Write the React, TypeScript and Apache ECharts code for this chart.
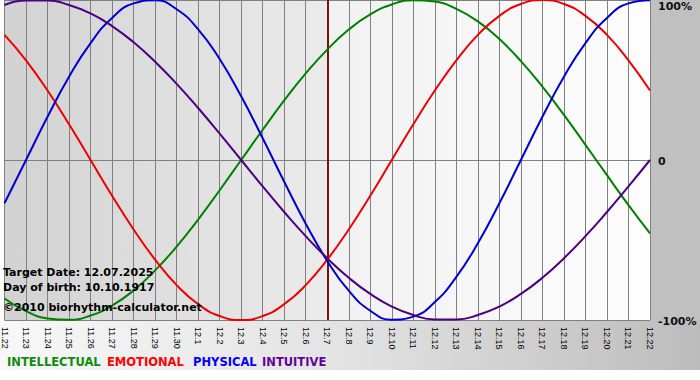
import React, { useEffect, useRef } from "react";
import * as echarts from "echarts";

const dates = [
  "11.22", "11.23", "11.24", "11.25", "11.26", "11.27", "11.28", "11.29", "11.30",
  "12.1", "12.2", "12.3", "12.4", "12.5", "12.6", "12.7", "12.8", "12.9", "12.10",
  "12.11", "12.12", "12.13", "12.14", "12.15", "12.16", "12.17", "12.18", "12.19",
  "12.20", "12.21", "12.22",
];

const targetDate = "12.7";

const intellectual = [
  -0.866, -0.945, -0.99, -0.999, -0.972, -0.91, -0.815, -0.69, -0.541, -0.372,
  -0.189, 0, 0.189, 0.372, 0.541, 0.69, 0.815, 0.91, 0.972, 0.999, 0.99, 0.945,
  0.866, 0.756, 0.618, 0.458, 0.282, 0.095, -0.095, -0.282, -0.458,
];

const emotional = [
  0.782, 0.623, 0.434, 0.223, 0, -0.223, -0.434, -0.623, -0.782, -0.901, -0.975,
  -1.0, -0.975, -0.901, -0.782, -0.623, -0.434, -0.223, 0, 0.223, 0.434, 0.623,
  0.782, 0.901, 0.975, 1.0, 0.975, 0.901, 0.782, 0.623, 0.434,
];

const physical = [
  -0.27, 0, 0.27, 0.52, 0.731, 0.888, 0.979, 0.998, 0.942, 0.817, 0.631, 0.398,
  0.136, -0.136, -0.398, -0.631, -0.817, -0.942, -0.998, -0.979, -0.888, -0.731,
  -0.52, -0.27, 0, 0.27, 0.52, 0.731, 0.888, 0.979, 0.998,
];

const intuitive = [
  0.969, 0.997, 0.997, 0.969, 0.916, 0.837, 0.736, 0.614, 0.476, 0.325, 0.165, 0,
  -0.165, -0.325, -0.476, -0.614, -0.736, -0.837, -0.916, -0.969, -0.997, -0.997,
  -0.969, -0.916, -0.837, -0.736, -0.614, -0.476, -0.325, -0.165, 0,
];

const seriesNames = ["INTELLECTUAL", "EMOTIONAL", "PHYSICAL", "INTUITIVE"];
const seriesData = [intellectual, emotional, physical, intuitive];
const lineColors = ["#008000", "#ee0000", "#0000d0", "#4b0082"];
const legendColors = ["#108a10", "#ff0000", "#0000ff", "#660099"];

const yTickValues = [-1, 0, 1];
const yTickLabels = ["-100%", "0", "100%"];

const infoLines = [
  "Target Date: 12.07.2025",
  "Day of birth: 10.10.1917",
  "©2010 biorhythm-calculator.net",
];

const FONT = "DejaVu Sans";

export default function App() {
  const ref = useRef<HTMLDivElement>(null);

  useEffect(() => {
    if (!ref.current) return;
    const chart = echarts.init(ref.current, null, { renderer: "svg" });

    const labelFont = {
      fontFamily: FONT,
      fontWeight: "bold" as const,
      fontSize: 11,
      color: "#111",
    };

    const legendX = [7, 107, 193, 262];
    const infoY = [272, 287.5, 307];

    chart.setOption({
      animation: false,
      backgroundColor: "#ffffff",
      grid: {
        left: 1,
        top: 0,
        width: 649,
        height: 320,
        show: true,
        borderWidth: 0,
        backgroundColor: new echarts.graphic.LinearGradient(0, 0, 1, 0, [
          { offset: 0, color: "#d2d2d2" },
          { offset: 0.5, color: "#ebebeb" },
          { offset: 0.5, color: "#f1f1f1" },
          { offset: 1, color: "#fdfdfd" },
        ]),
      },
      xAxis: {
        type: "category",
        data: dates,
        boundaryGap: false,
        axisLine: { show: true, lineStyle: { color: "#808080", width: 1 } },
        axisTick: { show: true, interval: 0, length: 4, lineStyle: { color: "#808080" } },
        splitLine: { show: true, interval: 0, lineStyle: { color: "#808080", width: 1 } },
        axisLabel: {
          interval: 0,
          rotate: -90,
          margin: 7,
          fontFamily: "Liberation Sans",
          fontSize: 9,
          color: "#000",
        },
      },
      yAxis: {
        type: "value",
        position: "right",
        min: -1,
        max: 1,
        interval: 1,
        axisLine: { show: false },
        axisTick: { show: false },
        splitLine: { show: true, lineStyle: { color: "#808080", width: 1 } },
        axisLabel: {
          margin: 8,
          ...labelFont,
          formatter: (v: number) => {
            const idx = yTickValues.indexOf(v);
            const txt = idx >= 0 ? yTickLabels[idx] : "";
            if (v === 1) return "{t|" + txt + "}";
            return "{m|" + txt + "}";
          },
          rich: {
            t: { ...labelFont, padding: [12, 0, 0, 0] },
            m: { ...labelFont, padding: [3, 0, 0, 0] },
          },
        },
      },
      series: seriesNames.map((name, i) => ({
        name,
        type: "line",
        data: seriesData[i],
        smooth: true,
        showSymbol: false,
        symbol: "none",
        lineStyle: { color: lineColors[i], width: 2 },
        z: 3 + i,
        ...(i === 0
          ? {
              markLine: {
                silent: true,
                symbol: "none",
                label: { show: false },
                lineStyle: { color: "#7a1010", width: 2, type: "solid" },
                data: [{ xAxis: targetDate }],
                z: 2,
              },
            }
          : {}),
      })),
      graphic: [
        {
          type: "rect",
          z: -10,
          shape: { x: 650, y: 0, width: 50, height: 321 },
          style: { fill: "#c0c0c0" },
          silent: true,
        },
        {
          type: "rect",
          z: -10,
          shape: { x: 0, y: 321, width: 700, height: 49 },
          style: {
            fill: new echarts.graphic.LinearGradient(0, 0, 1, 0, [
              { offset: 0, color: "#f8f8f8" },
              { offset: 0.5, color: "#e2e2e2" },
              { offset: 1, color: "#bcbcbc" },
            ]),
          },
          silent: true,
        },
        ...infoLines.map((t, i) => ({
          type: "text",
          z: 50,
          x: 3,
          y: infoY[i],
          style: {
            text: t,
            fill: "#000",
            font: `bold 11px "${FONT}"`,
            verticalAlign: "middle",
          },
          silent: true,
        })),
        ...seriesNames.map((n, i) => ({
          type: "text",
          z: 50,
          x: legendX[i],
          y: 362,
          style: {
            text: n,
            fill: legendColors[i],
            font: `bold 11.5px "${FONT}"`,
            verticalAlign: "middle",
          },
          silent: true,
        })),
      ],
    });

    return () => chart.dispose();
  }, []);

  return (
    <div
      ref={ref}
      style={{ position: "absolute", left: 0, top: 0, width: 700, height: 380 }}
    />
  );
}
